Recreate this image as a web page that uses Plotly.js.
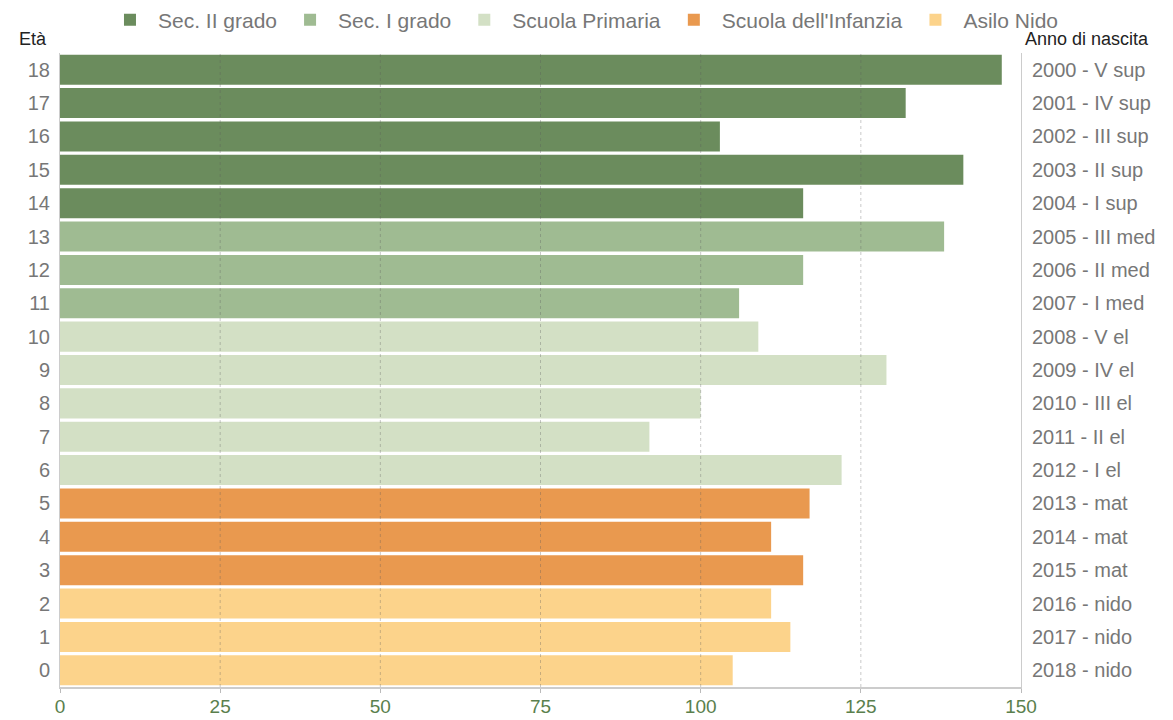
<!DOCTYPE html>
<html>
<head>
<meta charset="utf-8">
<script src="https://cdn.plot.ly/plotly-3.0.1.min.js"></script>
<style>html,body{margin:0;padding:0;background:#fff;}#chart{width:1173px;height:720px;}</style>
</head>
<body>
<div id="chart"></div>
<script>
const ages = [18,17,16,15,14,13,12,11,10,9,8,7,6,5,4,3,2,1,0];
const pupils = [147,132,103,141,116,138,116,106,109,129,100,92,122,117,111,116,111,114,105];
const birthLabels = ["2000 - V sup","2001 - IV sup","2002 - III sup","2003 - II sup","2004 - I sup",
  "2005 - III med","2006 - II med","2007 - I med",
  "2008 - V el","2009 - IV el","2010 - III el","2011 - II el","2012 - I el",
  "2013 - mat","2014 - mat","2015 - mat",
  "2016 - nido","2017 - nido","2018 - nido"];
const groupOf = ["Sec. II grado","Sec. II grado","Sec. II grado","Sec. II grado","Sec. II grado",
  "Sec. I grado","Sec. I grado","Sec. I grado",
  "Scuola Primaria","Scuola Primaria","Scuola Primaria","Scuola Primaria","Scuola Primaria",
  "Scuola dell'Infanzia","Scuola dell'Infanzia","Scuola dell'Infanzia",
  "Asilo Nido","Asilo Nido","Asilo Nido"];
const groups = ["Sec. II grado","Sec. I grado","Scuola Primaria","Scuola dell'Infanzia","Asilo Nido"];
const groupColors = ["#6b8c5d","#9fbb92","#d3e0c5","#e9994f","#fcd38b"];
const xTicks = [0,25,50,75,100,125,150];

const FONT = "Liberation Sans, Arial, Helvetica, sans-serif";

const traces = groups.map((g, gi) => {
  const xs = [], ys = [];
  ages.forEach((a, i) => { if (groupOf[i] === g) { xs.push(pupils[i]); ys.push(a); } });
  return {
    type: 'bar', orientation: 'h', name: g, x: xs, y: ys, width: 0.9,
    marker: {color: groupColors[gi], line: {width: 0}},
    hoverinfo: 'x+y'
  };
});
traces.push({
  type: 'scatter', mode: 'markers', x: pupils, y: ages, yaxis: 'y2',
  marker: {opacity: 0}, showlegend: false, hoverinfo: 'skip'
});

// dashed grid drawn above the bars, one per inner tick
const gridShapes = xTicks.filter(v => v > xTicks[0] && v < xTicks[xTicks.length - 1]).map(v => ({
  type: 'line', xref: 'x', yref: 'paper', x0: v, x1: v, y0: 0, y1: 1, layer: 'above',
  line: {color: 'rgba(90,90,90,0.33)', width: 1, dash: '3px,3px'}
}));

const layout = {
  width: 1173, height: 720,
  margin: {l: 60, r: 152, t: 53, b: 33},
  paper_bgcolor: '#fff', plot_bgcolor: '#fff',
  font: {family: FONT, color: '#777', size: 20},
  barmode: 'overlay',
  showlegend: true,
  legend: {orientation: 'h', xref: 'container', yref: 'container', x: 0.497, xanchor: 'center',
           y: 0.972, yanchor: 'middle', font: {family: FONT, size: 21, color: '#777'},
           itemwidth: 46, traceorder: 'normal', itemclick: false},
  xaxis: {range: [0, 150], tickvals: xTicks, ticktext: xTicks.map(String),
          showgrid: false, zeroline: false, showline: true, linecolor: '#cccccc', linewidth: 2,
          ticks: 'outside', ticklen: 4, tickcolor: '#bbbbbb', tickwidth: 1, ticklabelstandoff: -3,
          tickfont: {family: FONT, size: 19, color: '#5a7f4d'}, fixedrange: true},
  yaxis: {range: [-0.5, 18.5], tickvals: ages, ticktext: ages.map(String),
          showgrid: false, zeroline: false, showline: true, linecolor: '#cccccc', linewidth: 1,
          ticks: '', ticklabelstandoff: 5,
          tickfont: {family: FONT, size: 20, color: '#777'}, fixedrange: true},
  yaxis2: {overlaying: 'y', side: 'right', range: [-0.5, 18.5], tickvals: ages, ticktext: birthLabels,
           showgrid: false, zeroline: false, showline: true, linecolor: '#cccccc', linewidth: 1,
           ticks: '', ticklabelstandoff: 6,
           tickfont: {family: FONT, size: 20, color: '#777'}, fixedrange: true},
  shapes: gridShapes,
  annotations: [
    {text: 'Età', xref: 'paper', yref: 'paper', x: -0.045, y: 1.003, xanchor: 'left', yanchor: 'bottom',
     showarrow: false, font: {family: FONT, size: 18, color: '#222'}},
    {text: 'Anno di nascita', xref: 'paper', yref: 'paper', x: 1.002, y: 1.003, xanchor: 'left', yanchor: 'bottom',
     showarrow: false, font: {family: FONT, size: 18, color: '#222'}}
  ]
};

Plotly.newPlot('chart', traces, layout, {displayModeBar: false, staticPlot: true});
</script>
</body>
</html>
